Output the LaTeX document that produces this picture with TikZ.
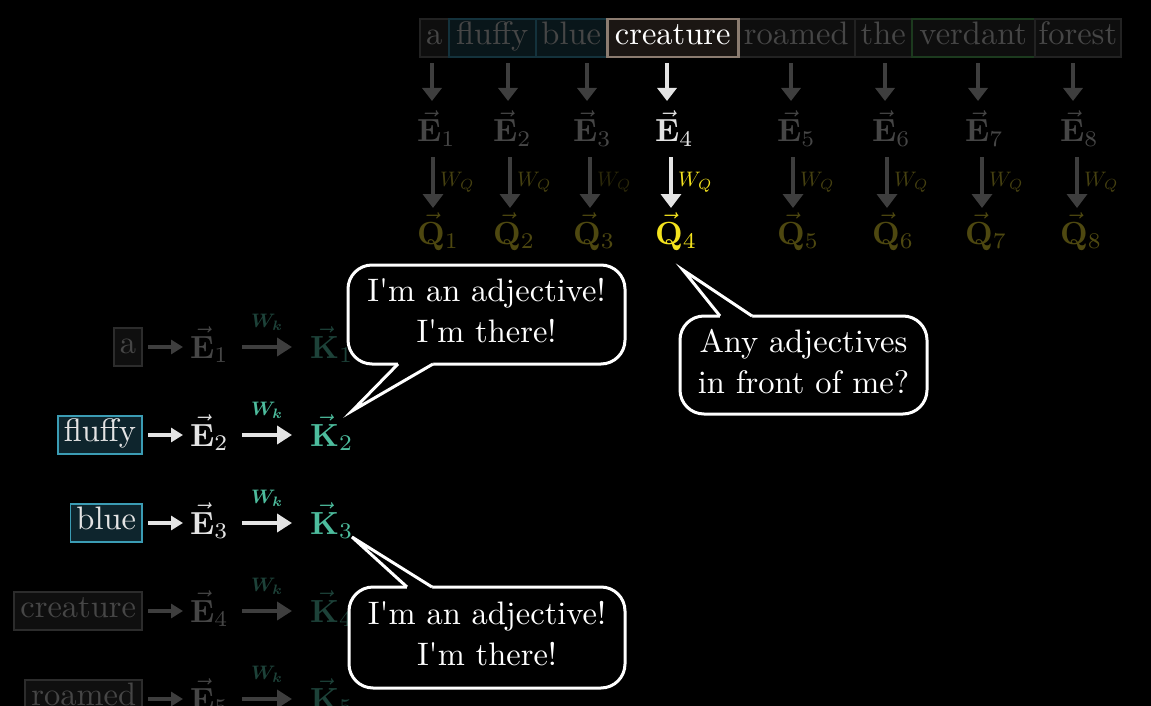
\RequirePackage{fix-cm}
\documentclass[tikz,border=0pt]{standalone}
\usepackage{amsmath}
\usepackage{graphicx}
\usetikzlibrary{arrows.meta}
\definecolor{dimtxt}{HTML}{464646}
\definecolor{dimarr}{HTML}{3E3E3E}
\definecolor{brt}{HTML}{E4E4E4}
\definecolor{qdim}{HTML}{4E4810}
\definecolor{wqdim}{HTML}{454010}
\definecolor{wqdimmer}{HTML}{2A2709}
\definecolor{qyel}{HTML}{F4E31E}
\definecolor{tealk}{HTML}{4DBC9D}
\definecolor{tealdim}{HTML}{1D4239}
\definecolor{boxteal}{HTML}{3B9CB4}
\definecolor{boxtealfill}{HTML}{0E252D}
\definecolor{topborder}{HTML}{222222}
\definecolor{topfill}{HTML}{0E0E0E}
\definecolor{toptealborder}{HTML}{14323C}
\definecolor{toptealfill}{HTML}{09161A}
\definecolor{topgreenborder}{HTML}{1C3A1E}
\definecolor{crborder}{HTML}{8C7C70}
\definecolor{crfill}{HTML}{1B1613}
\definecolor{leftdimborder}{HTML}{2C2C2C}
\definecolor{leftdimfill}{HTML}{0F0F0F}
\newcommand{\toptxt}[1]{\scalebox{3.25}{#1}}
\newcommand{\lefttxt}[1]{\scalebox{3.25}{#1}}
\newcommand{\mtxt}[1]{\scalebox{3.2}{#1}}
\newcommand{\wqtxt}[1]{\scalebox{2.1}{#1}}
\newcommand{\wktxt}[1]{\scalebox{1.95}{#1}}
\newcommand{\bubtxt}[2]{\scalebox{3.25}{\begin{tabular}{@{}c@{}}#1\\[0.7pt]#2\end{tabular}}}
\newcommand{\q}{\textquotesingle}
\begin{document}
\begin{tikzpicture}[x=1pt,y=-1pt,
  wordtop/.style={anchor=west, inner xsep=0pt, inner ysep=3.5pt, text height=22pt, text depth=9pt, minimum height=38pt, font=\fontsize{10}{12}\selectfont, line width=1.5pt},
  wordleft/.style={anchor=east, inner xsep=6pt, inner ysep=3.5pt, text height=22pt, text depth=9pt, font=\fontsize{10}{12}\selectfont, line width=1.8pt},
  mathlbl/.style={inner sep=0pt, anchor=base west, font=\fontsize{10}{12}\selectfont},
  wlbl/.style={inner sep=0pt, font=\fontsize{10}{12}\selectfont},
  toparrow/.style={line width=4.5pt, -{Triangle[width=19pt,length=13pt]}},
  midarrow/.style={line width=4.5pt, -{Triangle[width=20pt,length=14pt]}},
  shortarrow/.style={line width=4pt, -{Triangle[width=14pt,length=12pt]}},
  longarrow/.style={line width=4.5pt, -{Triangle[width=18pt,length=15pt]}},
  bubblebox/.style={draw=white, fill=black, line width=3pt, rounded corners=24pt, align=center, inner sep=0pt, outer sep=0pt, text=white, font=\fontsize{10}{12}\selectfont},
  tail/.style={draw=white, line width=3pt, line join=miter},
]
\fill[black] (0,0) rectangle (1151,706);
\useasboundingbox (0,0) rectangle (1151,706);
\clip (0,0) rectangle (1151,706);

% ---------- top row of words ----------
\node[wordtop, draw=topborder, fill=topfill, text=dimtxt, minimum width=29pt] (wa) at (419,38) {\toptxt{a}};
\node[wordtop, draw=toptealborder, fill=toptealfill, text=dimtxt, minimum width=87pt] (wfluffy) at (448,38) {\toptxt{fluffy}};
\node[wordtop, draw=toptealborder, fill=toptealfill, text=dimtxt, minimum width=71pt] (wblue) at (535,38) {\toptxt{blue}};
\node[wordtop, draw=topborder, fill=topfill, text=dimtxt, minimum width=117pt] (wroamed) at (737,38) {\toptxt{roamed}};
\node[wordtop, draw=topborder, fill=topfill, text=dimtxt, minimum width=57pt] (wthe) at (854,38) {\toptxt{the}};
\node[wordtop, draw=topgreenborder, fill=topfill, text=dimtxt, minimum width=123pt] (wverdant) at (911,38) {\toptxt{verdant}};
\node[wordtop, draw=topborder, fill=topfill, text=dimtxt, minimum width=86pt] (wforest) at (1034,38) {\toptxt{forest}};
\node[wordtop, draw=crborder, fill=crfill, text=white, line width=2.5pt, minimum width=131pt] (wcreature) at (606,38) {\toptxt{creature}};

% ---------- dim columns ----------
\foreach \i/\c/\m/\el in {1/432/433/417,2/508/510/493,3/587/590/573,5/791/793/777,6/885/887/872,7/978/982/965,8/1073/1077/1060}{
  \coordinate (ta\i) at (\c,63);
  \coordinate (tb\i) at (\c,101);
  \draw[toparrow, dimarr] (ta\i) -- (tb\i);
  \node[mathlbl, text=dimtxt] (e\i) at (\el,142) {\mtxt{$\vec{\mathbf{E}}_{\i}$}};
  \coordinate (ma\i) at (\m,157);
  \coordinate (mb\i) at (\m,208);
  \draw[midarrow, dimarr] (ma\i) -- (mb\i);
  \node[mathlbl, text=qdim] (q\i) at (\el,244) {\mtxt{$\vec{\mathbf{Q}}_{\i}$}};
}
\foreach \i/\m in {1/433,2/510,5/793,6/887,7/982,8/1077}{
  \node[wlbl, anchor=west, text=wqdim] (wq\i) at (\m+7,182) {\wqtxt{$W_Q$}};
}
\node[wlbl, anchor=west, text=wqdimmer] (wq3) at (597,182) {\wqtxt{$W_Q$}};

% ---------- highlighted column 4 ----------
\coordinate (ta4) at (667,63);
\coordinate (tb4) at (667,101);
\draw[toparrow, brt] (ta4) -- (tb4);
\node[mathlbl, text=brt] (e4) at (655,142) {\mtxt{$\vec{\mathbf{E}}_4$}};
\coordinate (ma4) at (671,157);
\coordinate (mb4) at (671,208);
\draw[midarrow, brt] (ma4) -- (mb4);
\node[wlbl, anchor=west, text=qyel] (wq4) at (678,182) {\wqtxt{$W_Q$}};
\node[mathlbl, text=qyel] (q4) at (655,244) {\mtxt{$\vec{\mathbf{Q}}_4$}};

% ---------- left rows ----------
% row 1 (dim)
\node[wordleft, draw=leftdimborder, fill=leftdimfill, text=dimtxt] (lw1) at (143,347) {\lefttxt{a}};
\node[mathlbl, text=dimtxt] (le1) at (190,358) {\mtxt{$\vec{\mathbf{E}}_1$}};
\node[mathlbl, text=tealdim] (lk1) at (310,358) {\mtxt{$\vec{\mathbf{K}}_1$}};
\node[wlbl, text=tealdim] (lwk1) at (267,322) {\wktxt{$\boldsymbol{W_k}$}};
\draw[shortarrow, dimarr] ([xshift=5pt]lw1.east) -- ([xshift=-7pt]le1.west |- lw1.east);
\draw[longarrow, dimarr] ([xshift=242pt]lw1.east -| 0,0) -- ([xshift=-18pt]lk1.west |- lw1.east);
% row 2 (bright)
\node[wordleft, draw=boxteal, fill=boxtealfill, text=brt] (lw2) at (143,435) {\lefttxt{fluffy}};
\node[mathlbl, text=brt] (le2) at (190,446) {\mtxt{$\vec{\mathbf{E}}_2$}};
\node[mathlbl, text=tealk] (lk2) at (310,446) {\mtxt{$\vec{\mathbf{K}}_2$}};
\node[wlbl, text=tealk] (lwk2) at (267,410) {\wktxt{$\boldsymbol{W_k}$}};
\draw[shortarrow, brt] ([xshift=5pt]lw2.east) -- ([xshift=-7pt]le2.west |- lw2.east);
\draw[longarrow, brt] ([xshift=242pt]lw2.east -| 0,0) -- ([xshift=-18pt]lk2.west |- lw2.east);
% row 3 (bright)
\node[wordleft, draw=boxteal, fill=boxtealfill, text=brt] (lw3) at (143,523) {\lefttxt{blue}};
\node[mathlbl, text=brt] (le3) at (190,534) {\mtxt{$\vec{\mathbf{E}}_3$}};
\node[mathlbl, text=tealk] (lk3) at (310,534) {\mtxt{$\vec{\mathbf{K}}_3$}};
\node[wlbl, text=tealk] (lwk3) at (267,498) {\wktxt{$\boldsymbol{W_k}$}};
\draw[shortarrow, brt] ([xshift=5pt]lw3.east) -- ([xshift=-7pt]le3.west |- lw3.east);
\draw[longarrow, brt] ([xshift=242pt]lw3.east -| 0,0) -- ([xshift=-18pt]lk3.west |- lw3.east);
% row 4 (dim)
\node[wordleft, draw=leftdimborder, fill=leftdimfill, text=dimtxt] (lw4) at (143,611) {\lefttxt{creature}};
\node[mathlbl, text=dimtxt] (le4) at (190,622) {\mtxt{$\vec{\mathbf{E}}_4$}};
\node[mathlbl, text=tealdim] (lk4) at (310,622) {\mtxt{$\vec{\mathbf{K}}_4$}};
\node[wlbl, text=tealdim] (lwk4) at (267,586) {\wktxt{$\boldsymbol{W_k}$}};
\draw[shortarrow, dimarr] ([xshift=5pt]lw4.east) -- ([xshift=-7pt]le4.west |- lw4.east);
\draw[longarrow, dimarr] ([xshift=242pt]lw4.east -| 0,0) -- ([xshift=-18pt]lk4.west |- lw4.east);
% row 5 (dim, cut off)
\node[wordleft, draw=leftdimborder, fill=leftdimfill, text=dimtxt] (lw5) at (143,699) {\lefttxt{roamed}};
\node[mathlbl, text=dimtxt] (le5) at (190,710) {\mtxt{$\vec{\mathbf{E}}_5$}};
\node[mathlbl, text=tealdim] (lk5) at (310,710) {\mtxt{$\vec{\mathbf{K}}_5$}};
\node[wlbl, text=tealdim] (lwk5) at (267,674) {\wktxt{$\boldsymbol{W_k}$}};
\draw[shortarrow, dimarr] ([xshift=5pt]lw5.east) -- ([xshift=-7pt]le5.west |- lw5.east);
\draw[longarrow, dimarr] ([xshift=242pt]lw5.east -| 0,0) -- ([xshift=-18pt]lk5.west |- lw5.east);

% ---------- speech bubbles ----------
\node[bubblebox, minimum width=277pt, minimum height=99pt] (b1) at (486.5,314.5) {\bubtxt{I\q m an adjective!}{I\q m there!}};
\coordinate (t1) at (352,411);
\fill[black] ([xshift=-88.5pt,yshift=7pt]b1.south) -- ([xshift=-88.5pt]b1.south) -- (t1) -- ([xshift=-53.5pt]b1.south) -- ([xshift=-53.5pt,yshift=7pt]b1.south) -- cycle;
\draw[tail] ([xshift=-88.5pt]b1.south) -- (t1) -- ([xshift=-53.5pt]b1.south);

\node[bubblebox, minimum width=247pt, minimum height=98pt] (b2) at (803.5,365) {\bubtxt{Any adjectives}{in front of me?}};
\coordinate (t2) at (683,270);
\fill[black] ([xshift=-83.5pt,yshift=-7pt]b2.north) -- ([xshift=-83.5pt]b2.north) -- (t2) -- ([xshift=-51.5pt]b2.north) -- ([xshift=-51.5pt,yshift=-7pt]b2.north) -- cycle;
\draw[tail] ([xshift=-83.5pt]b2.north) -- (t2) -- ([xshift=-51.5pt]b2.north);

\node[bubblebox, minimum width=276pt, minimum height=101pt] (b3) at (487,637.5) {\bubtxt{I\q m an adjective!}{I\q m there!}};
\coordinate (t3) at (352,537);
\fill[black] ([xshift=-80pt,yshift=-7pt]b3.north) -- ([xshift=-80pt]b3.north) -- (t3) -- ([xshift=-55pt]b3.north) -- ([xshift=-55pt,yshift=-7pt]b3.north) -- cycle;
\draw[tail] ([xshift=-80pt]b3.north) -- (t3) -- ([xshift=-55pt]b3.north);
\end{tikzpicture}
\end{document}
